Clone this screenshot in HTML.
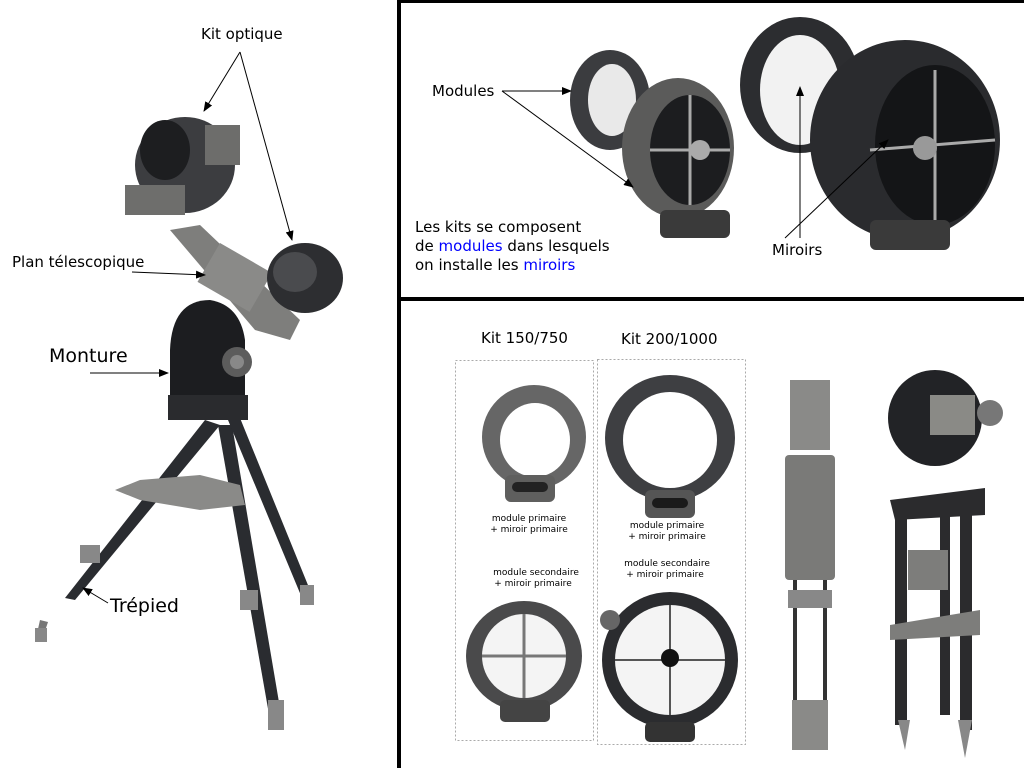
<!DOCTYPE html>
<html><head><meta charset="utf-8"><style>
html,body{margin:0;padding:0;background:#fff;}
svg{display:block;}
text{font-family:"DejaVu Sans","Liberation Sans",sans-serif;fill:#000;}
</style></head><body>
<svg width="1024" height="768" viewBox="0 0 1024 768" xmlns="http://www.w3.org/2000/svg">
<defs>
<marker id="ar" markerWidth="10" markerHeight="8" refX="9" refY="4" orient="auto" markerUnits="userSpaceOnUse"><path d="M0,0 L10,4 L0,8 z" fill="#000"/></marker>
</defs>
<rect width="1024" height="768" fill="#fff"/>
<!-- dividers -->
<rect x="397" y="0" width="4" height="768" fill="#000"/>
<rect x="399" y="0" width="625" height="3" fill="#000"/>
<rect x="399" y="297" width="625" height="4" fill="#000"/>

<!-- LEFT: telescope -->
<!-- tripod legs -->
<polygon points="205,420 220,425 75,600 65,598" fill="#2a2c30"/>
<polygon points="218,425 232,425 282,720 270,720" fill="#2a2c30"/>
<polygon points="228,420 240,418 312,595 302,598" fill="#2a2c30"/>
<polygon points="40,620 48,622 42,640 36,638" fill="#777"/>
<rect x="35" y="628" width="12" height="14" fill="#888"/>
<rect x="268" y="700" width="16" height="30" fill="#888"/>
<rect x="240" y="590" width="18" height="20" fill="#888"/>
<rect x="300" y="585" width="14" height="20" fill="#888"/>
<rect x="80" y="545" width="20" height="18" fill="#888"/>
<polygon points="115,490 140,480 200,475 240,485 245,505 200,510 140,500" fill="#8a8a88"/>
<!-- mount -->
<path d="M170,350 Q172,300 210,300 Q240,305 245,340 L245,405 L170,408 Z" fill="#1c1d20"/>
<rect x="168" y="395" width="80" height="25" fill="#2a2b2e"/>
<circle cx="237" cy="362" r="15" fill="#5c5c5c"/>
<circle cx="237" cy="362" r="7" fill="#888"/>
<!-- plan telescopique -->
<polygon points="170,230 200,225 300,320 290,340 255,330" fill="#7e7e7c"/>
<rect x="205" y="255" width="60" height="45" fill="#8a8a88" transform="rotate(30 235 277)"/>
<!-- optics top -->
<ellipse cx="185" cy="165" rx="50" ry="48" fill="#3c3d40"/>
<ellipse cx="165" cy="150" rx="25" ry="30" fill="#1d1e20"/>
<rect x="125" y="185" width="60" height="30" fill="#6e6e6c"/>
<rect x="205" y="125" width="35" height="40" fill="#6d6d6b"/>
<ellipse cx="305" cy="278" rx="38" ry="35" fill="#2d2e31"/>
<ellipse cx="295" cy="272" rx="22" ry="20" fill="#4a4b4e"/>
<!-- labels left -->
<text x="201" y="39" font-size="15">Kit optique</text>
<line x1="240" y1="52" x2="204" y2="111" stroke="#000" marker-end="url(#ar)"/>
<line x1="240" y1="52" x2="292" y2="240" stroke="#000" marker-end="url(#ar)"/>
<text x="12" y="267" font-size="15">Plan télescopique</text>
<line x1="132" y1="272" x2="205" y2="275" stroke="#000" marker-end="url(#ar)"/>
<text x="49" y="362" font-size="19">Monture</text>
<line x1="90" y1="373" x2="168" y2="373" stroke="#000" marker-end="url(#ar)"/>
<text x="110" y="612" font-size="19">Trépied</text>
<line x1="108" y1="603" x2="83" y2="588" stroke="#000" marker-end="url(#ar)"/>

<!-- TOP RIGHT -->
<ellipse cx="610" cy="100" rx="40" ry="50" fill="#3b3c3f"/>
<ellipse cx="612" cy="100" rx="24" ry="36" fill="#e9e9e9"/>
<ellipse cx="678" cy="148" rx="56" ry="70" fill="#5b5b5a"/>
<ellipse cx="690" cy="150" rx="40" ry="55" fill="#1c1d1f"/>
<line x1="690" y1="95" x2="690" y2="205" stroke="#aaa" stroke-width="3"/>
<line x1="650" y1="150" x2="730" y2="150" stroke="#aaa" stroke-width="3"/>
<circle cx="700" cy="150" r="10" fill="#aaa"/>
<rect x="660" y="210" width="70" height="28" rx="6" fill="#3a3a3a"/>
<ellipse cx="800" cy="85" rx="60" ry="68" fill="#2c2d30"/>
<ellipse cx="800" cy="90" rx="40" ry="55" fill="#f2f2f2"/>
<ellipse cx="905" cy="140" rx="95" ry="100" fill="#2a2b2e"/>
<ellipse cx="935" cy="145" rx="60" ry="80" fill="#141517"/>
<line x1="935" y1="70" x2="935" y2="220" stroke="#aaa" stroke-width="3"/>
<line x1="870" y1="150" x2="995" y2="140" stroke="#aaa" stroke-width="3"/>
<circle cx="925" cy="148" r="12" fill="#999"/>
<rect x="870" y="220" width="80" height="30" rx="6" fill="#3a3a3a"/>
<text x="432" y="96" font-size="15">Modules</text>
<line x1="502" y1="91" x2="571" y2="91" stroke="#000" marker-end="url(#ar)"/>
<line x1="502" y1="91" x2="633" y2="187" stroke="#000" marker-end="url(#ar)"/>
<text x="415" y="232" font-size="15">Les kits se composent</text>
<text x="415" y="251" font-size="15">de <tspan fill="#0000ff" style="fill:#0000ff">modules</tspan> dans lesquels</text>
<text x="415" y="270" font-size="15">on installe les <tspan style="fill:#0000ff">miroirs</tspan></text>
<text x="772" y="255" font-size="15">Miroirs</text>
<line x1="800" y1="238" x2="800" y2="87" stroke="#000" marker-end="url(#ar)"/>
<line x1="785" y1="238" x2="888" y2="140" stroke="#000" marker-end="url(#ar)"/>

<!-- BOTTOM RIGHT -->
<text x="481" y="343" font-size="15">Kit 150/750</text>
<text x="621" y="344" font-size="15">Kit 200/1000</text>
<rect x="455.5" y="360.5" width="138" height="380" fill="none" stroke="#aaa" stroke-dasharray="2,2"/>
<rect x="597.5" y="359.5" width="148" height="385" fill="none" stroke="#aaa" stroke-dasharray="2,2"/>
<!-- 150 primary -->
<ellipse cx="534" cy="437" rx="52" ry="52" fill="#666"/>
<ellipse cx="535" cy="440" rx="35" ry="37" fill="#fff"/>
<rect x="505" y="475" width="50" height="27" rx="6" fill="#5f5f5e"/>
<rect x="512" y="482" width="36" height="10" rx="5" fill="#222"/>
<text x="529" y="521" font-size="9" text-anchor="middle">module primaire</text>
<text x="529" y="532" font-size="9" text-anchor="middle">+ miroir primaire</text>
<text x="536" y="575" font-size="9" text-anchor="middle">module secondaire</text>
<text x="533" y="586" font-size="9" text-anchor="middle">+ miroir primaire</text>
<ellipse cx="524" cy="656" rx="58" ry="55" fill="#4a4a4b"/>
<ellipse cx="524" cy="656" rx="42" ry="42" fill="#f4f4f4"/>
<line x1="524" y1="614" x2="524" y2="698" stroke="#777" stroke-width="3"/>
<line x1="482" y1="656" x2="566" y2="656" stroke="#777" stroke-width="3"/>
<rect x="500" y="700" width="50" height="22" rx="5" fill="#444"/>
<!-- 200 primary -->
<ellipse cx="670" cy="438" rx="65" ry="63" fill="#3e3f42"/>
<ellipse cx="670" cy="440" rx="47" ry="48" fill="#fff"/>
<rect x="645" y="490" width="50" height="28" rx="6" fill="#555"/>
<rect x="652" y="498" width="36" height="10" rx="5" fill="#1a1a1a"/>
<text x="667" y="528" font-size="9" text-anchor="middle">module primaire</text>
<text x="667" y="539" font-size="9" text-anchor="middle">+ miroir primaire</text>
<text x="667" y="566" font-size="9" text-anchor="middle">module secondaire</text>
<text x="665" y="577" font-size="9" text-anchor="middle">+ miroir primaire</text>
<ellipse cx="670" cy="660" rx="68" ry="68" fill="#2b2c2f"/>
<ellipse cx="670" cy="660" rx="55" ry="55" fill="#f4f4f4"/>
<line x1="670" y1="605" x2="670" y2="715" stroke="#555" stroke-width="2"/>
<line x1="615" y1="660" x2="725" y2="660" stroke="#555" stroke-width="2"/>
<circle cx="670" cy="658" r="9" fill="#111"/>
<circle cx="610" cy="620" r="10" fill="#666"/>
<rect x="645" y="722" width="50" height="20" rx="5" fill="#333"/>
<!-- plan telescopique -->
<rect x="790" y="380" width="40" height="70" fill="#8a8a88"/>
<rect x="785" y="455" width="50" height="125" rx="4" fill="#7a7a78"/>
<rect x="793" y="580" width="4" height="130" fill="#333"/>
<rect x="823" y="580" width="4" height="130" fill="#333"/>
<rect x="788" y="590" width="44" height="18" fill="#888"/>
<rect x="792" y="700" width="36" height="50" fill="#8a8a88"/>
<!-- mount head -->
<ellipse cx="935" cy="418" rx="47" ry="48" fill="#222326"/>
<rect x="930" y="395" width="45" height="40" fill="#8a8a86"/>
<circle cx="990" cy="413" r="13" fill="#777"/>
<!-- tripod -->
<polygon points="890,500 985,488 985,515 895,520" fill="#2b2b2d"/>
<rect x="895" y="515" width="12" height="210" fill="#2b2b2d"/>
<rect x="960" y="515" width="12" height="215" fill="#2b2b2d"/>
<rect x="940" y="515" width="10" height="200" fill="#2b2b2d"/>
<polygon points="890,625 980,610 980,635 890,640" fill="#7d7d7b"/>
<rect x="908" y="550" width="40" height="40" fill="#7d7d7b"/>
<polygon points="898,720 910,720 905,750" fill="#888"/>
<polygon points="958,720 972,720 965,758" fill="#888"/>
</svg>
</body></html>
